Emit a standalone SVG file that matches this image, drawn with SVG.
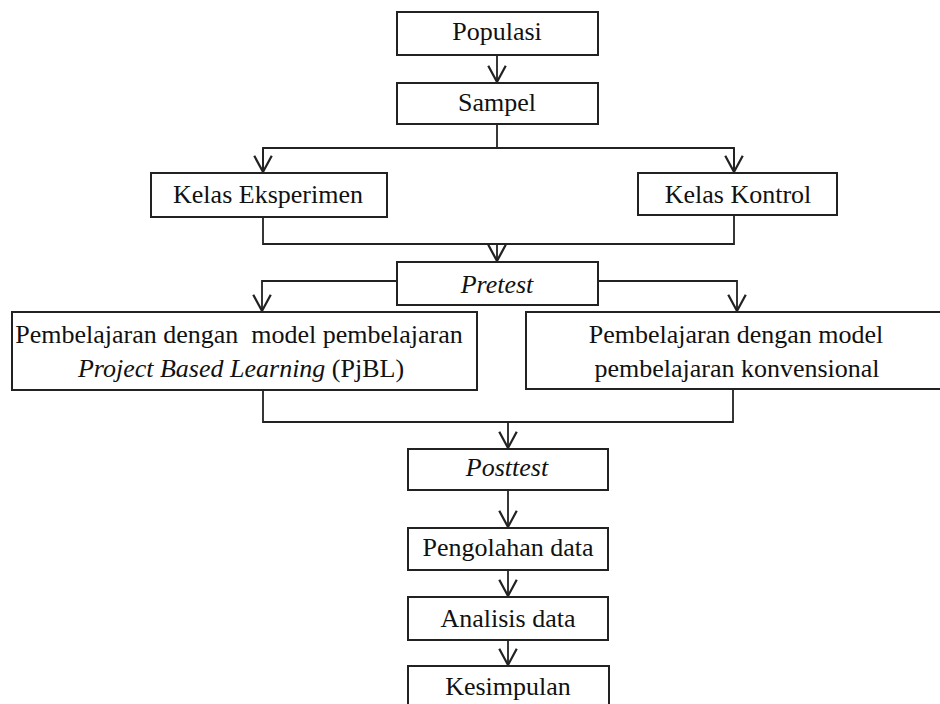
<svg xmlns="http://www.w3.org/2000/svg" width="940" height="704" viewBox="0 0 940 704">
<style>
.box{fill:#fff;stroke:#222;stroke-width:2}
.ln{fill:none;stroke:#222;stroke-width:1.8}
text{font-family:"Liberation Serif","Times New Roman",serif;font-size:26px;fill:#111;text-anchor:middle}
.it{font-style:italic}
.pre{white-space:pre}
</style>
<defs>
<marker id="v" markerUnits="userSpaceOnUse" markerWidth="20" markerHeight="20" refX="8" refY="14" orient="0" viewBox="0 0 16 16">
<polyline points="1,1 8,14 15,1" fill="none" stroke="#222" stroke-width="1.8"/>
</marker>
</defs>
<rect width="940" height="704" fill="#fff"/>
<g id="connectors">
<line class="ln" x1="497" y1="55" x2="497" y2="82" marker-end="url(#v)"/>
<polyline class="ln" points="497,124 497,148"/>
<polyline class="ln" points="263,172 263,148 734,148 734,172"/>
<line class="ln" x1="263" y1="148" x2="263" y2="172" marker-end="url(#v)"/>
<line class="ln" x1="734" y1="148" x2="734" y2="172" marker-end="url(#v)"/>
<polyline class="ln" points="263,217 263,244 734,244 734,215"/>
<line class="ln" x1="497" y1="244" x2="497" y2="261" marker-end="url(#v)"/>
<polyline class="ln" points="397,281 262,281 262,311" marker-end="url(#v)"/>
<polyline class="ln" points="598,281 737,281 737,311" marker-end="url(#v)"/>
<polyline class="ln" points="263,390 263,422 733,422 733,389"/>
<line class="ln" x1="508" y1="422" x2="508" y2="448" marker-end="url(#v)"/>
<line class="ln" x1="508" y1="490" x2="508" y2="527" marker-end="url(#v)"/>
<line class="ln" x1="508" y1="570" x2="508" y2="596" marker-end="url(#v)"/>
<line class="ln" x1="508" y1="640" x2="508" y2="665" marker-end="url(#v)"/>
</g>
<g id="populasi"><rect class="box" x="397" y="12" width="201" height="43"/><text x="497" y="40">Populasi</text></g>
<g id="sampel"><rect class="box" x="397" y="83" width="201" height="41"/><text x="497" y="111">Sampel</text></g>
<g id="kelas-eksperimen"><rect class="box" x="151" y="173" width="236" height="44"/><text x="268" y="203">Kelas Eksperimen</text></g>
<g id="kelas-kontrol"><rect class="box" x="638" y="173" width="199" height="42"/><text x="738" y="203">Kelas Kontrol</text></g>
<g id="pretest"><rect class="box" x="397" y="262" width="201" height="43"/><text class="it" x="497" y="293">Pretest</text></g>
<g id="pjbl"><rect class="box" x="12" y="312" width="465" height="78"/><text class="pre" x="239" y="343">Pembelajaran dengan  model pembelajaran</text><text x="241" y="377"><tspan class="it">Project Based Learning</tspan> (PjBL)</text></g>
<g id="konvensional"><rect class="box" x="526" y="312" width="430" height="77"/><text x="736" y="343">Pembelajaran dengan model</text><text x="737" y="377">pembelajaran konvensional</text></g>
<g id="posttest"><rect class="box" x="408" y="449" width="200" height="41"/><text class="it" x="507" y="476">Posttest</text></g>
<g id="pengolahan"><rect class="box" x="408" y="528" width="200" height="42"/><text x="508" y="556">Pengolahan data</text></g>
<g id="analisis"><rect class="box" x="408" y="597" width="200" height="43"/><text x="508" y="627">Analisis data</text></g>
<g id="kesimpulan"><rect class="box" x="408" y="666" width="201" height="50"/><text x="508" y="695">Kesimpulan</text></g>
</svg>
